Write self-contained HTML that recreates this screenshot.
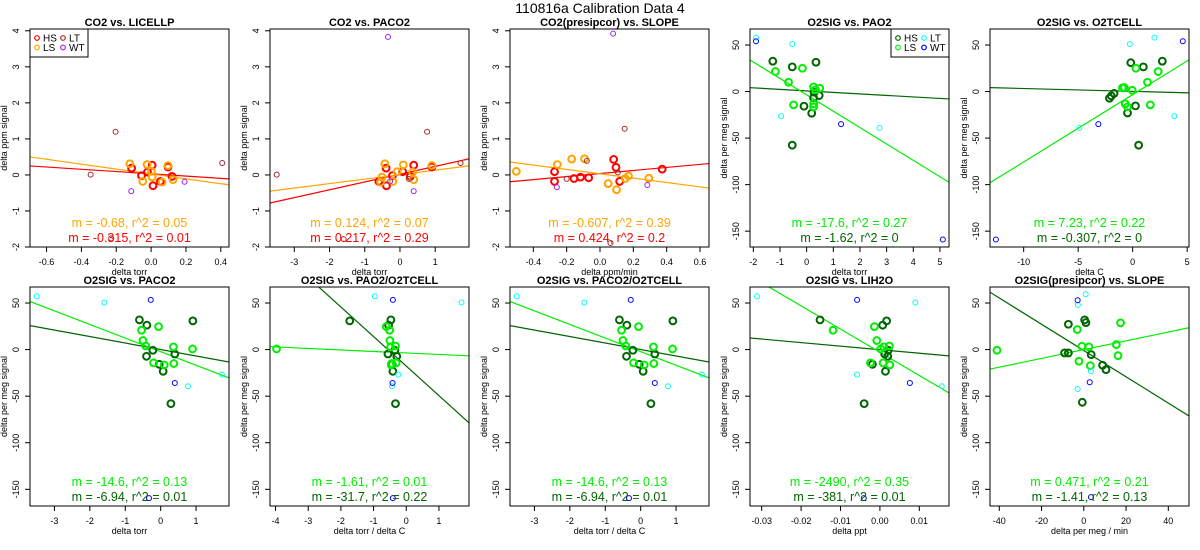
<!DOCTYPE html>
<html><head><meta charset="utf-8"><title>110816a Calibration Data 4</title>
<style>
html,body{margin:0;padding:0;background:#fff;}
svg{display:block;font-family:"Liberation Sans",Arial,sans-serif;}
</style></head>
<body>
<svg id="chart" width="1200" height="550" viewBox="0 0 1200 550" xmlns="http://www.w3.org/2000/svg">
<text x="600" y="13" text-anchor="middle" font-size="14">110816a   Calibration Data 4</text>
</svg>
<script>
// ---- data ----
const p1HSx=[-0.112,-0.055,-0.021,0.006,0.011,0.053,0.097,0.12];
const p1HSy=[0.19,-0.02,0.08,0.27,-0.30,-0.18,0.22,-0.04];
const p1LSx=[-0.122,-0.048,-0.023,0.002,0.006,0.063,0.097,0.126];
const p1LSy=[0.31,-0.18,0.29,0.10,-0.06,-0.2,0.26,-0.13];
const p1LTx=[-0.347,-0.204,0.408,-0.229];
const p1LTy=[0.01,1.2,0.33,-1.76];
const p1WTx=[-0.114,0.192];
const p1WTy=[-0.45,-0.19];
const p1Fit=[-0.315,0.031,-0.68,0.027];

const p2HSx=[-0.393,-0.384,-0.214,0.078,0.39,0.906,-0.6,0.294];
const p2HSy=[0.19,-0.30,-0.02,0.09,0.27,0.22,-0.18,-0.04];
const p2LSx=[-0.43,-0.51,-0.55,-0.2,-0.08,0.096,0.36,0.39,0.906];
const p2LSy=[0.31,-0.06,-0.2,-0.18,0.09,0.28,0.08,-0.13,0.26];
const p2LTx=[-3.5,0.77,1.72,-1.6,0.25];
const p2LTy=[0.01,1.2,0.33,-1.78,-0.11];
const p2WTx=[-0.34,-0.28,0.39];
const p2WTy=[3.83,-0.18,-0.45];
const p2Fit=[0.217,0.021,0.124,0.008];

const p3HSx=[-0.273,-0.273,-0.156,-0.117,-0.068,0.082,0.096,0.118,0.373];
const p3HSy=[0.09,-0.18,-0.1,-0.06,-0.08,0.43,0.21,-0.18,0.16];
const p3LSx=[-0.502,-0.256,-0.17,-0.093,0.049,0.099,0.151,0.171,0.293];
const p3LSy=[0.1,0.29,0.44,0.45,-0.24,-0.41,-0.1,-0.03,-0.09];
const p3LTx=[-0.2,-0.079,0.148,0.063,0.107];
const p3LTy=[-0.11,0.39,1.28,-1.89,0.07];
const p3WTx=[0.079,-0.259,0.284];
const p3WTy=[3.92,-0.34,-0.28];
const p3Fit=[0.424,0.039,-0.607,0.032];

const p4HSx=[-1.27,-0.54,0.35,-0.10,0.19,0.26,0.28,0.47,-0.54];
const p4HSy=[32.6,26.5,31.5,-15.7,-23.3,-6.8,-0.7,-4.3,-57.6];
const p4LSx=[-1.17,-0.68,-0.16,0.26,0.49,-0.49,0.26,0.26,0.33];
const p4LSy=[21.5,10,25,5,3.6,-14.3,-13.2,-16.5,1.8];
const p4LTx=[-1.9,-0.54,-0.96,2.73];
const p4LTy=[58,51,-26.5,-39];
const p4WTx=[-1.9,1.29,5.11];
const p4WTy=[54,-35,-159];
const p4Fit=[-1.62,0.72,-17.6,-3.5];

const p5HSx=[-2.13,-1.96,-0.17,0.98,2.72,-0.47,0.26,0.55,-1.7];
const p5HSy=[-7.2,-4.7,31,26.5,32.6,-23,-15.4,-57.6,-2];
const p5LSx=[-0.94,-0.77,-0.04,0.3,1.36,2.34,-0.68,-0.47,1.62];
const p5LSy=[3.9,4.3,1.4,25,10,21.5,-13.2,-16.5,-14.3];
const p5LTx=[-0.26,2.0,-4.9,3.83];
const p5LTy=[51,58,-39,-26.5];
const p5WTx=[4.6,-3.15,-12.55];
const p5WTy=[54,-35,-159];
const p5Fit=[-0.307,0.2,7.23,-3.3];

const b1HSx=[-0.6,-0.39,0.91,-0.22,-0.4,-0.04,0.07,0.4,0.29];
const b1HSy=[31.9,26.2,30.8,-0.7,-7.2,-15.8,-23.3,-4.7,-58];
const b1LSx=[-0.54,-0.5,-0.42,-0.06,-0.2,0.1,0.36,0.37,0.9];
const b1LSy=[20.8,9.7,3.9,24.7,-14.3,-16.5,2.9,-15,0.7];
const b1LTx=[-3.5,-1.59,0.77,1.73];
const b1LTy=[57.3,50.5,-39.4,-26.9];
const b1WTx=[-0.28,0.4,-0.33];
const b1WTy=[53.4,-35.8,-159.5];
const b1Fit=[-6.94,0.1,-14.6,-2.2];

const b2HSx=[-1.73,-0.47,-0.54,-0.35,-0.56,-0.29,-0.43,-0.41,-0.33];
const b2HSy=[30.8,31.9,26.2,-0.7,-4.7,-7.2,-15.8,-23.3,-58];
const b2LSx=[-3.97,-0.61,-0.51,-0.5,-0.48,-0.33,-0.46,-0.31,-0.45];
const b2LSy=[0.7,24.7,20.8,9.7,2.9,3.9,-16.5,-14.3,-15];
const b2LTx=[-0.96,1.69,-0.24,-0.44];
const b2LTy=[57.3,50.5,-26.9,-39.4];
const b2WTx=[-0.41,-0.42,-0.41];
const b2WTy=[53.4,-35.8,-159.5];
const b2Fit=[-31.7,-17.7,-1.61,-3.6];

const b3HSx=[-0.6,-0.39,0.91,-0.22,-0.4,-0.04,0.07,0.4,0.29];
const b3HSy=[31.9,26.2,30.8,-0.7,-7.2,-15.8,-23.3,-4.7,-58];
const b3LSx=[-0.54,-0.5,-0.42,-0.06,-0.2,0.1,0.36,0.37,0.9];
const b3LSy=[20.8,9.7,3.9,24.7,-14.3,-16.5,2.9,-15,0.7];
const b3LTx=[-3.5,-1.59,0.77,1.73];
const b3LTy=[57.3,50.5,-39.4,-26.9];
const b3WTx=[-0.28,0.4,-0.33];
const b3WTy=[53.4,-35.8,-159.5];
const b3Fit=[-6.94,0.1,-14.6,-2.2];

const b4HSx=[-0.0152,0.0007,0.0017,-0.0019,0.0014,-0.004,0.0012,0.002,0.0021];
const b4HSy=[31.9,26.2,30.8,-15.8,-23.3,-58,-4.7,-7.2,-0.7];
const b4LSx=[-0.0119,-0.0014,-0.0008,0.0002,0.001,0.0024,-0.0024,0.0008,0.0025];
const b4LSy=[20.8,24.7,9.7,0.7,2.9,3.9,-14.3,-14.3,-16.5];
const b4LTx=[-0.0312,0.009,-0.0058,0.0157];
const b4LTy=[57.3,50.5,-26.9,-39.4];
const b4WTx=[-0.0058,0.0076,-0.0041];
const b4WTy=[53.4,-35.8,-159.5];
const b4Fit=[-381,-0.1,-2490,-2.9];

const b5HSx=[0.4,1.0,-7.3,-9.1,-7.3,3.5,8.9,10.5,-0.7];
const b5HSy=[31.9,29,27.2,-3.6,-3.6,-5.4,-16.8,-21.5,-56.6];
const b5LSx=[-3.1,-0.9,2.4,-2.3,3.1,15.4,16.2,17.4,-41.1];
const b5LSy=[21.5,3.6,2.9,-12.5,-17.2,5.4,-6.5,28.7,-0.7];
const b5LTx=[0.9,-2.8,-2.9,3.4];
const b5LTy=[59.5,48,-42.3,-23.3];
const b5WTx=[-2.9,2.8,3.4];
const b5WTy=[53,-35.1,-158.4];
const b5Fit=[-1.41,-1,0.471,0];

const co2YTicks=[-2,-1,0,1,2,3,4];
const o2YTicks=[-150,-100,-50,0,50];
const p1XTicks=["-0.6","-0.4","-0.2","0.0","0.2","0.4"];
const p2XTicks=["-3","-2","-1","0","1"];
const p3XTicks=["-0.4","-0.2","0.0","0.2","0.4","0.6"];
const p4XTicks=["-2","-1","0","1","2","3","4","5"];
const p5XTicks=["-10","-5","0","5"];
const b1XTicks=["-3","-2","-1","0","1"];
const b2XTicks=["-4","-3","-2","-1","0","1"];
const b4XTicks=["-0.03","-0.02","-0.01","0.00","0.01"];
const b5XTicks=["-40","-20","0","20","40"];
const p1Stats=["m = -0.68, r^2 = 0.05","m = -0.315, r^2 = 0.01"];
const p2Stats=["m = 0.124, r^2 = 0.07","m = 0.217, r^2 = 0.29"];
const p3Stats=["m = -0.607, r^2 = 0.39","m = 0.424, r^2 = 0.2"];
const p4Stats=["m = -17.6, r^2 = 0.27","m = -1.62, r^2 = 0"];
const p5Stats=["m = 7.23, r^2 = 0.22","m = -0.307, r^2 = 0"];
const b1Stats=["m = -14.6, r^2 = 0.13","m = -6.94, r^2 = 0.01"];
const b2Stats=["m = -1.61, r^2 = 0.01","m = -31.7, r^2 = 0.22"];
const b3Stats=["m = -14.6, r^2 = 0.13","m = -6.94, r^2 = 0.01"];
const b4Stats=["m = -2490, r^2 = 0.35","m = -381, r^2 = 0.01"];
const b5Stats=["m = 0.471, r^2 = 0.21","m = -1.41, r^2 = 0.13"];

const NS="http://www.w3.org/2000/svg";
const svg=document.getElementById('chart');
function mk(tag,attrs,parent){const e=document.createElementNS(NS,tag);for(const k in attrs)e.setAttribute(k,attrs[k]);(parent||svg).appendChild(e);return e;}

const CO2C={HS:"#ff0000",LS:"#ffa500",LT:"#a52a2a",WT:"#a020f0"};
const O2C={HS:"#006400",LS:"#00ee00",LT:"#00ffff",WT:"#0000ff"};

const panels=[
 {id:"p1",col:0,row:0,title:"CO2 vs. LICELLP",xr:[-0.695,0.447],yr:[-2,4.05],xt:p1XTicks,yt:co2YTicks,xl:"delta torr",yl:"delta ppm signal",c:CO2C,d:[p1HSx,p1HSy,p1LSx,p1LSy,p1LTx,p1LTy,p1WTx,p1WTy],fit:p1Fit,st:p1Stats,legend:true},
 {id:"p2",col:1,row:0,title:"CO2 vs. PACO2",xr:[-3.69,1.96],yr:[-2,4.05],xt:p2XTicks,yt:co2YTicks,xl:"delta torr",yl:"delta ppm signal",c:CO2C,d:[p2HSx,p2HSy,p2LSx,p2LSy,p2LTx,p2LTy,p2WTx,p2WTy],fit:p2Fit,st:p2Stats},
 {id:"p3",col:2,row:0,title:"CO2(presipcor) vs. SLOPE",xr:[-0.54,0.654],yr:[-2,4.05],xt:p3XTicks,yt:co2YTicks,xl:"delta ppm/min",yl:"delta ppm signal",c:CO2C,d:[p3HSx,p3HSy,p3LSx,p3LSy,p3LTx,p3LTy,p3WTx,p3WTy],fit:p3Fit,st:p3Stats},
 {id:"p4",col:3,row:0,title:"O2SIG vs. PAO2",xr:[-2.125,5.34],yr:[-167,67.2],xt:p4XTicks,yt:o2YTicks,xl:"delta torr",yl:"delta per meg signal",c:O2C,d:[p4HSx,p4HSy,p4LSx,p4LSy,p4LTx,p4LTy,p4WTx,p4WTy],fit:p4Fit,st:p4Stats,legend:true,legRight:true},
 {id:"p5",col:4,row:0,title:"O2SIG vs. O2TCELL",xr:[-13.09,5.17],yr:[-167,67.2],xt:p5XTicks,yt:o2YTicks,xl:"delta C",yl:"delta per meg signal",c:O2C,d:[p5HSx,p5HSy,p5LSx,p5LSy,p5LTx,p5LTy,p5WTx,p5WTy],fit:p5Fit,st:p5Stats},
 {id:"b1",col:0,row:1,title:"O2SIG vs. PACO2",xr:[-3.69,1.93],yr:[-167.9,67.2],xt:b1XTicks,yt:o2YTicks,xl:"delta torr",yl:"delta per meg signal",c:O2C,d:[b1HSx,b1HSy,b1LSx,b1LSy,b1LTx,b1LTy,b1WTx,b1WTy],fit:b1Fit,st:b1Stats},
 {id:"b2",col:1,row:1,title:"O2SIG vs. PAO2/O2TCELL",xr:[-4.17,1.92],yr:[-167.9,67.2],xt:b2XTicks,yt:o2YTicks,xl:"delta torr / delta C",yl:"delta per meg signal",c:O2C,d:[b2HSx,b2HSy,b2LSx,b2LSy,b2LTx,b2LTy,b2WTx,b2WTy],fit:b2Fit,st:b2Stats},
 {id:"b3",col:2,row:1,title:"O2SIG vs. PACO2/O2TCELL",xr:[-3.69,1.93],yr:[-167.9,67.2],xt:b1XTicks,yt:o2YTicks,xl:"delta torr / delta C",yl:"delta per meg signal",c:O2C,d:[b3HSx,b3HSy,b3LSx,b3LSy,b3LTx,b3LTy,b3WTx,b3WTy],fit:b3Fit,st:b3Stats},
 {id:"b4",col:3,row:1,title:"O2SIG vs. LIH2O",xr:[-0.03297,0.01753],yr:[-167.9,67.2],xt:b4XTicks,yt:o2YTicks,xl:"delta ppt",yl:"delta per meg signal",c:O2C,d:[b4HSx,b4HSy,b4LSx,b4LSy,b4LTx,b4LTy,b4WTx,b4WTy],fit:b4Fit,st:b4Stats},
 {id:"b5",col:4,row:1,title:"O2SIG(presipcor) vs. SLOPE",xr:[-44.4,49.8],yr:[-167.9,67.2],xt:b5XTicks,yt:o2YTicks,xl:"delta per meg / min",yl:"delta per meg signal",c:O2C,d:[b5HSx,b5HSy,b5LSx,b5LSy,b5LTx,b5LTy,b5WTx,b5WTy],fit:b5Fit,st:b5Stats}
];

panels.forEach(p=>{
  const L=30+240*p.col, R=229+240*p.col;
  const T=p.row===0?29:287, B=p.row===0?247:506;
  const sx=v=>L+(v-p.xr[0])/(p.xr[1]-p.xr[0])*(R-L);
  const sy=v=>B-(v-p.yr[0])/(p.yr[1]-p.yr[0])*(B-T);
  const g=mk('g',{});
  
  
  const cp=mk('clipPath',{id:'clip-'+p.id},g);
  mk('rect',{x:L,y:T,width:R-L,height:B-T},cp);
  const tt=mk('text',{x:(L+R)/2,y:T-3,'text-anchor':'middle','font-size':'11','font-weight':'bold'},g);
  tt.textContent=p.title;
  
  
  p.xt.forEach(s=>{
    const x=sx(parseFloat(s));
    mk('line',{x1:x,y1:B,x2:x,y2:B+5,stroke:'#000','stroke-width':1},g);
    const t=mk('text',{x:x,y:B+18,'text-anchor':'middle','font-size':'9'},g);
    t.textContent=s;
    
    
  });
  mk('line',{x1:sx(parseFloat(p.xt[0])),y1:B,x2:sx(parseFloat(p.xt[p.xt.length-1])),y2:B,stroke:'#000'},g);
  const xl=mk('text',{x:(L+R)/2,y:B+28,'text-anchor':'middle','font-size':'9'},g);
  xl.textContent=p.xl;
  
  
  p.yt.forEach(v=>{
    const y=sy(v);
    mk('line',{x1:L-5,y1:y,x2:L,y2:y,stroke:'#000'},g);
    const t=mk('text',{x:L-11,y:y,'text-anchor':'middle','font-size':'9',transform:`rotate(-90 ${L-11} ${y})`},g);
    t.textContent=String(v);
    
    
  });
  const yl=mk('text',{x:0,y:0,'text-anchor':'middle','font-size':'9',transform:`translate(${L-23},${(T+B)/2}) rotate(-90)`},g);
  yl.textContent=p.yl;
  
  
  const pg=mk('g',{'clip-path':`url(#clip-${p.id})`},g);
  const fl=[[p.fit[0],p.fit[1],p.c.HS],[p.fit[2],p.fit[3],p.c.LS]];
  fl.forEach((f,i)=>{
    const ln=mk('line',{x1:sx(p.xr[0]),y1:sy(f[1]+f[0]*p.xr[0]),x2:sx(p.xr[1]),y2:sy(f[1]+f[0]*p.xr[1]),stroke:f[2],'stroke-width':1.2},pg);
    
    
  });
  const ser=[["HS",0,3.4,2],["LS",2,3.4,2],["LT",4,2.5,1],["WT",6,2.5,1]];
  ser.forEach(s=>{
    const xs=p.d[s[1]], ys=p.d[s[1]+1];
    xs.forEach((xv,i)=>{
      const c=mk('circle',{cx:sx(xv),cy:sy(ys[i]),r:s[2],fill:'none',stroke:p.c[s[0]],'stroke-width':s[3]},pg);
      
      
    });
  });
  const s1=mk('text',{x:(L+R)/2,y:B-20,'text-anchor':'middle','font-size':'12.5',fill:p.c.LS},g);
  s1.textContent=p.st[0];
  
  
  const s2=mk('text',{x:(L+R)/2,y:B-5,'text-anchor':'middle','font-size':'12.5',fill:p.c.HS},g);
  s2.textContent=p.st[1];
  
  
  if(p.legend){
    const lx=p.legRight?R-58:L, ly=T;
    const lg=mk('g',{},g);
    
    
    mk('rect',{x:lx,y:ly,width:58,height:28,fill:'#fff',stroke:'#000'},lg);
    [["HS",0,0],["LS",0,1],["LT",1,0],["WT",1,1]].forEach(e=>{
      const ex=lx+7+e[1]*26, ey=ly+9+e[2]*9.5;
      mk('circle',{cx:ex,cy:ey,r:2.3,fill:'none',stroke:p.c[e[0]],'stroke-width':1.2},lg);
      const t=mk('text',{x:ex+6,y:ey+3.5,'font-size':'10'},lg);
      t.textContent=e[0];
      
      
    });
  }
  mk('rect',{x:L,y:T,width:R-L,height:B-T,fill:'none',stroke:'#000','stroke-width':1},g);
});
</script>
</body></html>
